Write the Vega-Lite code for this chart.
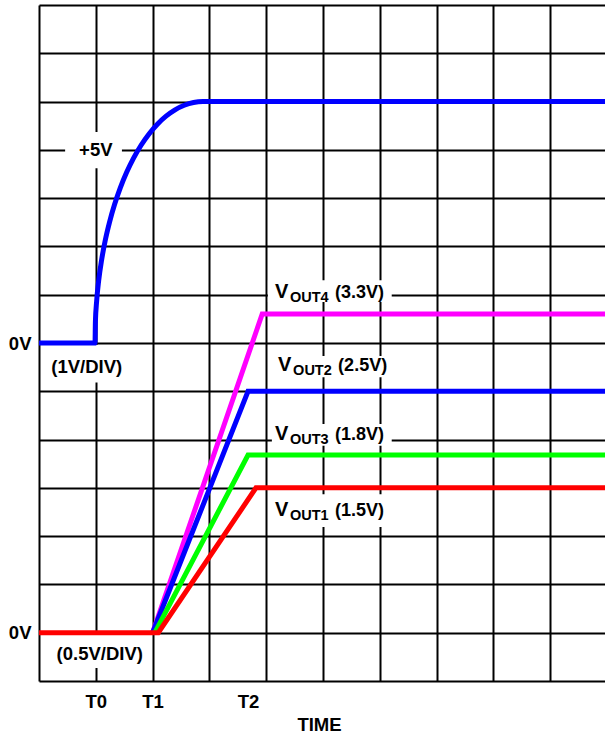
{
  "$schema": "https://vega.github.io/schema/vega-lite/v6.json",
  "autosize": "none",
  "width": 566,
  "height": 676,
  "padding": {"left": 39, "top": 5, "right": 0, "bottom": 53},
  "background": "white",
  "config": {
    "view": {"stroke": null},
    "font": "Liberation Sans"
  },
  "datasets": {
    "traces": [
      {"series": "+5V", "t": 0, "v": 7},
      {"series": "+5V", "t": 0.986, "v": 7},
      {"series": "+5V", "t": 0.993, "v": 7.436},
      {"series": "+5V", "t": 1.015, "v": 7.868},
      {"series": "+5V", "t": 1.051, "v": 8.294},
      {"series": "+5V", "t": 1.101, "v": 8.71},
      {"series": "+5V", "t": 1.164, "v": 9.113},
      {"series": "+5V", "t": 1.241, "v": 9.5},
      {"series": "+5V", "t": 1.33, "v": 9.868},
      {"series": "+5V", "t": 1.431, "v": 10.214},
      {"series": "+5V", "t": 1.543, "v": 10.536},
      {"series": "+5V", "t": 1.665, "v": 10.83},
      {"series": "+5V", "t": 1.797, "v": 11.096},
      {"series": "+5V", "t": 1.937, "v": 11.33},
      {"series": "+5V", "t": 2.084, "v": 11.532},
      {"series": "+5V", "t": 2.237, "v": 11.699},
      {"series": "+5V", "t": 2.395, "v": 11.83},
      {"series": "+5V", "t": 2.557, "v": 11.924},
      {"series": "+5V", "t": 2.721, "v": 11.981},
      {"series": "+5V", "t": 2.887, "v": 12},
      {"series": "+5V", "t": 10, "v": 12},
      {"series": "VOUT4", "t": 2.0, "v": 1},
      {"series": "VOUT4", "t": 3.93, "v": 7.6},
      {"series": "VOUT4", "t": 10, "v": 7.6},
      {"series": "VOUT2", "t": 2.0, "v": 1},
      {"series": "VOUT2", "t": 3.68, "v": 6},
      {"series": "VOUT2", "t": 10, "v": 6},
      {"series": "VOUT3", "t": 2.04, "v": 1},
      {"series": "VOUT3", "t": 3.68, "v": 4.68},
      {"series": "VOUT3", "t": 10, "v": 4.68},
      {"series": "VOUT1", "t": 0, "v": 1},
      {"series": "VOUT1", "t": 2.1, "v": 1},
      {"series": "VOUT1", "t": 3.82, "v": 4},
      {"series": "VOUT1", "t": 10, "v": 4}
    ],
    "boxes": [
      {"name": "+5V", "x": 0.46, "x2": 1.46, "y": 10.62, "y2": 11.37},
      {"name": "(1V/DIV)", "x": 0.16, "x2": 1.51, "y": 6.18, "y2": 6.96},
      {"name": "(0.5V/DIV)", "x": 0.19, "x2": 1.85, "y": 0.27, "y2": 0.97},
      {"name": "VOUT4", "x": 4.03, "x2": 6.21, "y": 7.85, "y2": 8.3},
      {"name": "VOUT2", "x": 4.15, "x2": 6.27, "y": 6.29, "y2": 6.73},
      {"name": "VOUT3", "x": 4.1, "x2": 6.21, "y": 4.87, "y2": 5.32},
      {"name": "VOUT1", "x": 4.1, "x2": 6.21, "y": 3.19, "y2": 3.87}
    ],
    "notes": [
      {"text": "+5V", "x": 1.0, "y": 10.88},
      {"text": "(1V/DIV)", "x": 0.84, "y": 6.37},
      {"text": "(0.5V/DIV)", "x": 1.07, "y": 0.435}
    ],
    "vlabels": [
      {"sub": "OUT4", "val": "(3.3V)", "x": 4.155, "y": 7.94},
      {"sub": "OUT2", "val": "(2.5V)", "x": 4.21, "y": 6.42},
      {"sub": "OUT3", "val": "(1.8V)", "x": 4.155, "y": 4.99},
      {"sub": "OUT1", "val": "(1.5V)", "x": 4.155, "y": 3.42}
    ]
  },
  "layer": [
    {
      "data": {"name": "boxes"},
      "mark": {"type": "rect", "fill": "white", "stroke": null},
      "encoding": {
        "x": {
          "field": "x", "type": "quantitative",
          "scale": {"domain": [0, 9.965], "nice": false, "zero": false},
          "axis": {
            "values": [0, 1, 2, 3, 3.68, 4, 5, 6, 7, 8, 9],
            "grid": true,
            "gridColor": "black",
            "gridWidth": 2,
            "gridOpacity": {"condition": {"test": "abs(datum.value - 3.68) < 0.01", "value": 0}, "value": 1},
            "domain": false,
            "ticks": false,
            "labelExpr": "datum.value == 1 ? 'T0' : datum.value == 2 ? 'T1' : abs(datum.value - 3.68) < 0.01 ? 'T2' : ''",
            "labelFont": "Liberation Sans",
            "labelFontWeight": "bold",
            "labelFontSize": 18.5,
            "labelColor": "black",
            "labelPadding": 11,
            "labelBaseline": "top",
            "labelFlush": false,
            "labelOverlap": false,
            "title": "TIME",
            "titleFont": "Liberation Sans",
            "titleFontWeight": "bold",
            "titleFontSize": 18.5,
            "titleColor": "black",
            "titleBaseline": "alphabetic",
            "titleX": 280,
            "titleY": 49
          }
        },
        "x2": {"field": "x2"},
        "y": {
          "field": "y", "type": "quantitative",
          "scale": {"domain": [0, 14], "nice": false, "zero": false},
          "axis": {
            "values": [0, 1, 2, 3, 4, 5, 6, 7, 8, 9, 10, 11, 12, 13, 14],
            "grid": true,
            "gridColor": "black",
            "gridWidth": 2,
            "gridOpacity": 1,
            "domain": false,
            "ticks": false,
            "labelExpr": "datum.value == 1 || datum.value == 7 ? '0V' : ''",
            "labelFont": "Liberation Sans",
            "labelFontWeight": "bold",
            "labelFontSize": 18.5,
            "labelColor": "black",
            "labelPadding": 8,
            "labelBaseline": "middle",
            "labelFlush": false,
            "labelOverlap": false,
            "title": null
          }
        },
        "y2": {"field": "y2"}
      }
    },
    {
      "data": {"name": "traces"},
      "transform": [{"filter": "datum.series == '+5V'"}],
      "mark": {"type": "line", "strokeWidth": 5, "clip": true, "interpolate": "monotone"},
      "encoding": {
        "x": {"field": "t", "type": "quantitative"},
        "y": {"field": "v", "type": "quantitative"},
        "color": {
          "field": "series", "type": "nominal",
          "scale": {"domain": ["+5V", "VOUT4", "VOUT2", "VOUT3", "VOUT1"], "range": ["#0000ff", "#ff00ff", "#0000ff", "#00ff00", "#ff0000"]},
          "legend": null
        }
      }
    },
    {
      "data": {"name": "traces"},
      "transform": [{"filter": "datum.series != '+5V'"}],
      "mark": {"type": "line", "strokeWidth": 5, "clip": true},
      "encoding": {
        "x": {"field": "t", "type": "quantitative"},
        "y": {"field": "v", "type": "quantitative"},
        "color": {"field": "series", "type": "nominal", "legend": null}
      }
    },
    {
      "data": {"name": "notes"},
      "mark": {"type": "text", "font": "Liberation Sans", "fontWeight": "bold", "fontSize": 18.5, "align": "center", "baseline": "alphabetic", "color": "black"},
      "encoding": {
        "x": {"field": "x", "type": "quantitative"},
        "y": {"field": "y", "type": "quantitative"},
        "text": {"field": "text"}
      }
    },
    {
      "data": {"name": "vlabels"},
      "mark": {"type": "text", "font": "Liberation Sans", "fontWeight": "bold", "fontSize": 20, "align": "left", "baseline": "alphabetic", "color": "black", "text": "V"},
      "encoding": {
        "x": {"field": "x", "type": "quantitative"},
        "y": {"field": "y", "type": "quantitative"}
      }
    },
    {
      "data": {"name": "vlabels"},
      "mark": {"type": "text", "font": "Liberation Sans", "fontWeight": "bold", "fontSize": 14.5, "align": "left", "baseline": "alphabetic", "color": "black", "dx": 15, "dy": 4},
      "encoding": {
        "x": {"field": "x", "type": "quantitative"},
        "y": {"field": "y", "type": "quantitative"},
        "text": {"field": "sub"}
      }
    },
    {
      "data": {"name": "vlabels"},
      "mark": {"type": "text", "font": "Liberation Sans", "fontWeight": "bold", "fontSize": 18, "align": "left", "baseline": "alphabetic", "color": "black", "dx": 60},
      "encoding": {
        "x": {"field": "x", "type": "quantitative"},
        "y": {"field": "y", "type": "quantitative"},
        "text": {"field": "val"}
      }
    }
  ]
}
